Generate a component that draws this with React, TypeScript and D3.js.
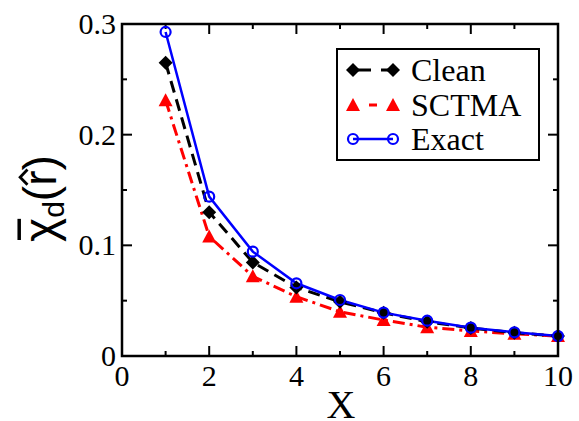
import React, { useLayoutEffect, useRef, useState } from "react";
import * as d3 from "d3";

const xs = [1, 2, 3, 4, 5, 6, 7, 8, 9, 10];
const cleanVals = [0.265, 0.13, 0.0846, 0.062, 0.049, 0.039, 0.031, 0.0253, 0.021, 0.018];
const sctmaVals = [0.231, 0.108, 0.072, 0.0536, 0.040, 0.0325, 0.026, 0.0226, 0.020, 0.018];
const exactVals = [0.2928, 0.144, 0.0943, 0.0657, 0.0506, 0.0392, 0.0319, 0.0256, 0.0214, 0.018];
const xTicks = [0, 2, 4, 6, 8, 10];
const xMinor = [1, 3, 5, 7, 9];
const yTicks = [0, 0.1, 0.2, 0.3];
const yMinor = [0.05, 0.15, 0.25];
const legendLabels = ["Clean", "SCTMA", "Exact"];

const W = 579, H = 421;
const L = 122, R = 558, T = 24, B = 356;
const serif = "'Liberation Serif', 'Times New Roman', serif";
const sans = "'Liberation Sans', Arial, sans-serif";

export default function App() {
  const x = d3.scaleLinear().domain([0, 10]).range([L, R]);
  const y = d3.scaleLinear().domain([0, 0.3]).range([B, T]);
  const line = d3.line<[number, number]>().x(d => x(d[0])).y(d => y(d[1]));
  const pts = (vals: number[]) => xs.map((v, i) => [v, vals[i]] as [number, number]);

  const labRef = useRef<SVGTextElement>(null);
  const [marks, setMarks] = useState<{ cx0: number; cx1: number; rx0: number; rx1: number } | null>(null);
  const FS = 46;
  useLayoutEffect(() => {
    const t = labRef.current;
    if (!t) return;
    try {
      const c = t.getExtentOfChar(0);
      const r = t.getExtentOfChar(3);
      setMarks({ cx0: c.x, cx1: c.x + c.width, rx0: r.x, rx1: r.x + r.width });
    } catch (e) {}
  }, []);

  const diamond = (cx: number, cy: number, k: string) => (
    <path key={k} d={`M${cx},${cy - 7}L${cx + 7},${cy}L${cx},${cy + 7}L${cx - 7},${cy}Z`} fill="black" />
  );
  const tri = (cx: number, cy: number, k: string) => (
    <path key={k} d={`M${cx},${cy - 7}L${cx + 7},${cy + 6}L${cx - 7},${cy + 6}Z`} fill="red" />
  );
  const circ = (cx: number, cy: number, k: string) => (
    <circle key={k} cx={cx} cy={cy} r={5} fill="none" stroke="#0000ff" strokeWidth={2.2} />
  );

  const legY = [70, 105, 139];
  const lx1 = 353, lx2 = 393;

  return (
    <svg width={W} height={H} style={{ position: "absolute", left: 0, top: 0, background: "white" }}>
      <rect width={W} height={H} fill="white" />
      {xTicks.map(t => (
        <g key={"xt" + t}>
          <line x1={x(t)} x2={x(t)} y1={B} y2={B - 10} stroke="black" strokeWidth={2} />
          <line x1={x(t)} x2={x(t)} y1={T} y2={T + 10} stroke="black" strokeWidth={2} />
          <text x={x(t)} y={386} textAnchor="middle" style={{ fontFamily: serif, fontSize: 30 }}>{t}</text>
        </g>
      ))}
      {xMinor.map(t => (
        <g key={"xm" + t}>
          <line x1={x(t)} x2={x(t)} y1={B} y2={B - 5} stroke="black" strokeWidth={2} />
          <line x1={x(t)} x2={x(t)} y1={T} y2={T + 5} stroke="black" strokeWidth={2} />
        </g>
      ))}
      {yTicks.map(t => (
        <g key={"yt" + t}>
          <line x1={L} x2={L + 10} y1={y(t)} y2={y(t)} stroke="black" strokeWidth={2} />
          <line x1={R} x2={R - 10} y1={y(t)} y2={y(t)} stroke="black" strokeWidth={2} />
          <text x={116} y={y(t) + 10} textAnchor="end" style={{ fontFamily: serif, fontSize: 30 }}>{t === 0 ? "0" : t.toFixed(1)}</text>
        </g>
      ))}
      {yMinor.map(t => (
        <g key={"ym" + t}>
          <line x1={L} x2={L + 5} y1={y(t)} y2={y(t)} stroke="black" strokeWidth={2} />
          <line x1={R} x2={R - 5} y1={y(t)} y2={y(t)} stroke="black" strokeWidth={2} />
        </g>
      ))}
      <path d={line(pts(sctmaVals)) || ""} fill="none" stroke="red" strokeWidth={3} strokeDasharray="12,5,3,5" />
      <path d={line(pts(cleanVals)) || ""} fill="none" stroke="black" strokeWidth={3} strokeDasharray="12,7" />
      <path d={line(pts(exactVals)) || ""} fill="none" stroke="#0000ff" strokeWidth={2.5} />
      {pts(sctmaVals).map((p, i) => tri(x(p[0]), y(p[1]), "s" + i))}
      {pts(cleanVals).map((p, i) => diamond(x(p[0]), y(p[1]), "c" + i))}
      {pts(exactVals).map((p, i) => circ(x(p[0]), y(p[1]), "e" + i))}
      <rect x={L} y={T} width={R - L} height={B - T} fill="none" stroke="black" strokeWidth={2.5} />
      <rect x={337} y={49} width={202} height={111} fill="white" stroke="black" strokeWidth={2} />
      <line x1={lx1} x2={lx2} y1={legY[0]} y2={legY[0]} stroke="black" strokeWidth={3} strokeDasharray="14,10" strokeDashoffset={-4} />
      {diamond(lx1, legY[0], "ld1")}
      {diamond(lx2, legY[0], "ld2")}
      <line x1={lx1 + 16} x2={lx2 - 16} y1={legY[1]} y2={legY[1]} stroke="red" strokeWidth={3} />
      {tri(lx1, legY[1], "lt1")}
      {tri(lx2, legY[1], "lt2")}
      <line x1={lx1} x2={lx2} y1={legY[2]} y2={legY[2]} stroke="#0000ff" strokeWidth={2.5} />
      {circ(lx1, legY[2], "lc1")}
      {circ(lx2, legY[2], "lc2")}
      {legendLabels.map((lab, i) => (
        <text key={lab} x={411} y={legY[i] + 11} style={{ fontFamily: serif, fontSize: 32 }}>{lab}</text>
      ))}
      <text x={341} y={418} textAnchor="middle" style={{ fontFamily: serif, fontSize: 40 }}>X</text>
      <g transform="translate(56,242) rotate(-90)">
        <text ref={labRef} x={0} y={0} style={{ fontFamily: sans, fontSize: FS }}>
          <tspan>χ</tspan>
          <tspan dy={8} style={{ fontSize: 30 }}>d</tspan>
          <tspan dy={-8}>(r)</tspan>
        </text>
        {marks && (
          <g>
            <line x1={marks.cx0 + 2} x2={marks.cx1 - 1} y1={-FS * 0.8} y2={-FS * 0.8} stroke="black" strokeWidth={3.5} />
            <path
              d={`M${marks.rx0 + 1},${-FS * 0.62}L${(marks.rx0 + marks.rx1) / 2 + 1},${-FS * 0.78}L${marks.rx1 + 1},${-FS * 0.62}`}
              fill="none" stroke="black" strokeWidth={2.8}
            />
          </g>
        )}
      </g>
    </svg>
  );
}
